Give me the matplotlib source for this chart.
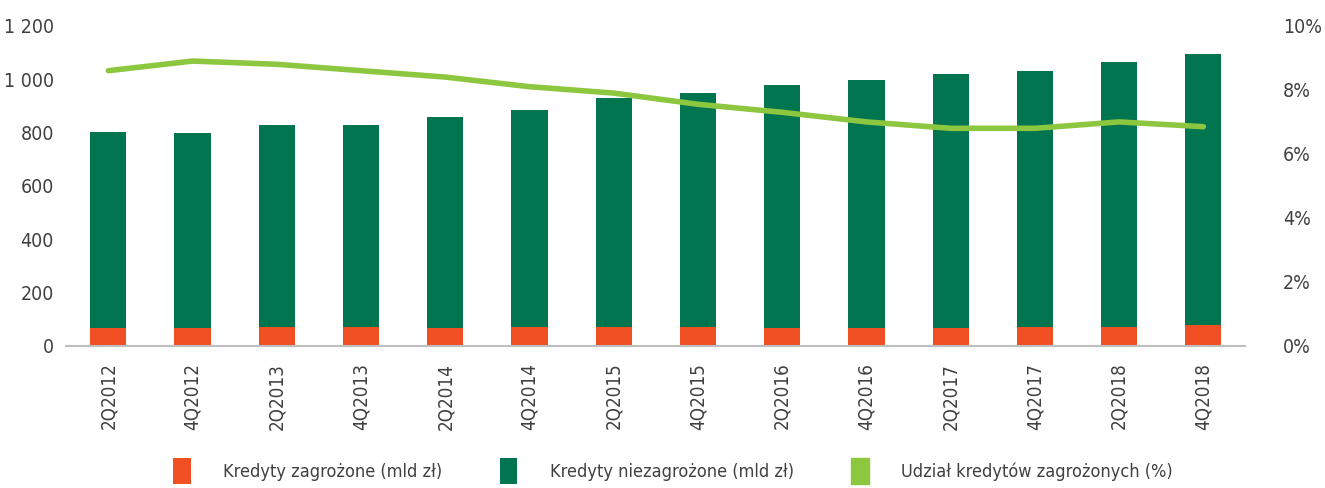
import matplotlib.pyplot as plt
from matplotlib.patches import Patch
from matplotlib.ticker import FuncFormatter

plt.rcParams["font.family"] = ["DejaVu Sans"]
plt.rcParams["font.stretch"] = "condensed"

# data
quarters = ["2Q2012", "4Q2012", "2Q2013", "4Q2013", "2Q2014", "4Q2014", "2Q2015",
            "4Q2015", "2Q2016", "4Q2016", "2Q2017", "4Q2017", "2Q2018", "4Q2018"]
impaired = [68, 68, 72, 72, 69, 71, 71, 71, 68, 68, 68, 70, 72, 78]
totals = [804, 800, 827, 830, 860, 883, 928, 947, 977, 996, 1018, 1029, 1063, 1093]
not_impaired = [t - r for t, r in zip(totals, impaired)]
share = [8.6, 8.9, 8.8, 8.6, 8.4, 8.1, 7.9, 7.55, 7.3, 7.0, 6.8, 6.8, 7.0, 6.85]

red = "#F04E23"
dgreen = "#007550"
lgreen = "#8DC63F"
txt = "#404040"

fig = plt.figure(figsize=(13.25, 4.88), dpi=100)
ax = fig.add_axes([0.05, 0.291, 0.89, 0.656])
x = range(len(quarters))

ax.bar(x, impaired, width=0.43, color=red, label="Kredyty zagrożone (mld zł)")
ax.bar(x, not_impaired, width=0.43, bottom=impaired, color=dgreen,
       label="Kredyty niezagrożone (mld zł)")
ax.set_ylim(0, 1200)
ax.set_xlim(-0.5, len(quarters) - 0.5)
ax.set_yticks(range(0, 1201, 200))
ax.yaxis.set_major_formatter(FuncFormatter(lambda v, p: f"{int(v):,}".replace(",", " ")))
ax.set_xticks(list(x))
ax.set_xticklabels(quarters, rotation=90)

ax2 = ax.twinx()
ax2.plot(x, share, color=lgreen, linewidth=4, solid_capstyle="round",
         label="Udział kredytów zagrożonych (%)")
ax2.set_ylim(0, 10)
ax2.set_yticks(range(0, 11, 2))
ax2.yaxis.set_major_formatter(FuncFormatter(lambda v, p: f"{int(v)}%"))

for a in (ax, ax2):
    for s in a.spines.values():
        s.set_visible(False)
    a.tick_params(length=0, labelsize=14, colors=txt, pad=9)
ax2.tick_params(pad=27)
ax.spines["bottom"].set_visible(True)
ax.spines["bottom"].set_color("#BFBFBF")
ax.spines["bottom"].set_linewidth(1.5)
ax.tick_params(axis="x", pad=12, labelsize=13.5)

h1, l1 = ax.get_legend_handles_labels()
h2, l2 = ax2.get_legend_handles_labels()
handles = h1 + [Patch(color=lgreen)]
fig.legend(handles, l1 + l2, loc="center", bbox_to_anchor=(0.508, 0.035), ncol=3,
           frameon=False, fontsize=13, handlelength=0.95, handleheight=1.8,
           columnspacing=3.2, handletextpad=1.8, labelcolor=txt)

fig.savefig("out.png", dpi=100)
